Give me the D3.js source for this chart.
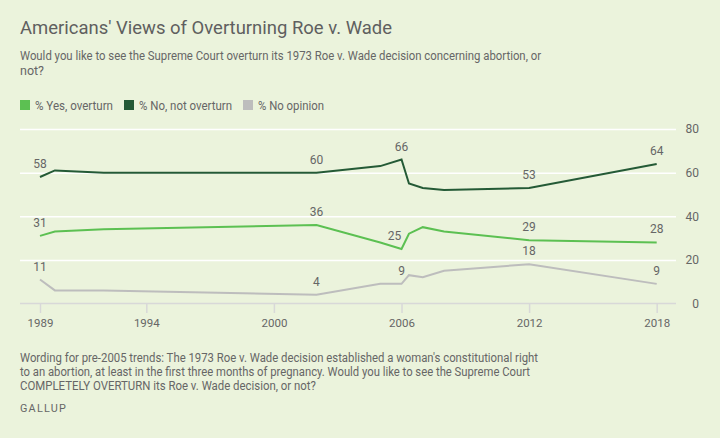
<!DOCTYPE html>
<html>
<head>
<meta charset="utf-8">
<script src="https://cdn.jsdelivr.net/npm/d3@7"></script>
<style>
  body{margin:0;background:#ebf3dc}
  text{font-family:Roboto,sans-serif}
</style>
</head>
<body>
<script>
// poll dates as decimal years
const years = [1989, 1989.7, 1992, 2002, 2005, 2006, 2006.35, 2007, 2008, 2012, 2018]
const yesOverturn = [31, 33, 34, 36, 28, 25, 32, 35, 33, 29, 28]
const noOverturn = [58, 61, 60, 60, 63, 66, 55, 53, 52, 53, 64]
const noOpinion = [11, 6, 6, 4, 9, 9, 13, 12, 15, 18, 9]
const labelYears = [1989, 2002, 2006, 2012, 2018]
const seriesNames = ['% Yes, overturn', '% No, not overturn', '% No opinion']
const xTicks = [1989, 1994, 2000, 2006, 2012, 2018]
const yTicks = [0, 20, 40, 60, 80]

const colors = {yes: '#5cc052', no: '#245a36', none: '#bdbdbd'}
const textColor = '#666'
const w = 720, h = 438

const svg = d3.select('body').append('svg').attr('width', w).attr('height', h)
svg.append('rect').attr('width', w).attr('height', h).attr('fill', '#ebf3dc')

// header
svg.append('text').text("Americans' Views of Overturning Roe v. Wade")
  .attr('x', 20).attr('y', 34).attr('fill', '#5f5f5f').style('font-size', '19px')
  .attr('textLength', 372).attr('lengthAdjust', 'spacingAndGlyphs')
const sub = ['Would you like to see the Supreme Court overturn its 1973 Roe v. Wade decision concerning abortion, or', 'not?']
svg.append('text').text(sub[0]).attr('x', 20).attr('y', 59.5).attr('fill', textColor)
  .style('font-size', '12.5px').attr('textLength', 521).attr('lengthAdjust', 'spacingAndGlyphs')
svg.append('text').text(sub[1]).attr('x', 20).attr('y', 75).attr('fill', textColor).style('font-size', '12.5px')

// legend
const legendX = [20, 124, 243]
const legendW = [78, 93, 66]
const legendC = [colors.yes, colors.no, colors.none]
const legend = svg.append('g').attr('id', 'legend')
seriesNames.forEach((name, i) => {
  legend.append('rect').attr('x', legendX[i]).attr('y', 100).attr('width', 10).attr('height', 10).attr('fill', legendC[i])
  legend.append('text').text(name).attr('x', legendX[i] + 15).attr('y', 109.5).attr('fill', textColor)
    .style('font-size', '12px').attr('textLength', legendW[i]).attr('lengthAdjust', 'spacingAndGlyphs')
})

// scales
const x = d3.scaleLinear().domain([1989, 2018]).range([40, 656.7])
const y = d3.scaleLinear().domain([0, 80]).range([303.5, 129])

// gridlines
const grid = svg.append('g').attr('transform', 'translate(676,0)')
  .call(d3.axisLeft(y).tickValues(yTicks.filter(d => d > 0)).tickSize(656).tickFormat(''))
grid.select('.domain').remove()
grid.selectAll('line').attr('stroke', '#fff').attr('stroke-width', 1.5)

// y labels on the right
const yAxis = svg.append('g').attr('transform', 'translate(699,0)')
  .call(d3.axisRight(y).tickValues(yTicks).tickSize(0).tickPadding(0))
yAxis.select('.domain').remove()
yAxis.selectAll('text').attr('text-anchor', 'end').attr('fill', textColor)
  .style('font-size', '12px').style('font-family', 'Roboto,sans-serif')

// x axis
svg.append('line').attr('x1', 20).attr('x2', 676).attr('y1', y(0)).attr('y2', y(0))
  .attr('stroke', '#d8d8d8').attr('stroke-width', 1.5)
const xAxis = svg.append('g').attr('transform', 'translate(0,' + y(0) + ')')
  .call(d3.axisBottom(x).tickValues(xTicks).tickFormat(d3.format('d')).tickSize(9.5).tickPadding(6))
xAxis.select('.domain').remove()
xAxis.selectAll('line').attr('stroke', '#d8d8d8').attr('stroke-width', 1.5)
xAxis.selectAll('text').attr('fill', textColor).style('font-size', '11.5px').style('font-family', 'Roboto,sans-serif')

// lines
const series = [
  {key: 'none', vals: noOpinion},
  {key: 'yes', vals: yesOverturn},
  {key: 'no', vals: noOverturn}
]
const line = d3.line().x(d => x(d[0])).y(d => y(d[1]))
series.forEach(s => {
  const pts = years.map((yr, i) => [yr, s.vals[i]])
  svg.append('path').datum(pts).attr('d', line).attr('fill', 'none')
    .attr('stroke', colors[s.key]).attr('stroke-width', 2)
  svg.selectAll(null).data(pts.filter(p => labelYears.includes(p[0]))).enter()
    .append('text').text(d => d[1])
    .attr('x', d => x(d[0]) + (s.key == 'yes' && d[0] == 2006 ? -7 : 0))
    .attr('y', d => y(d[1]) - 9)
    .attr('text-anchor', 'middle').attr('fill', textColor).style('font-size', '12px')
})

// footer
const foot = ["Wording for pre-2005 trends: The 1973 Roe v. Wade decision established a woman's constitutional right",
  'to an abortion, at least in the first three months of pregnancy. Would you like to see the Supreme Court',
  'COMPLETELY OVERTURN its Roe v. Wade decision, or not?']
const footW = [518, 510, 296]
foot.forEach((t, i) => {
  svg.append('text').text(t).attr('x', 20).attr('y', 362 + i * 14).attr('fill', textColor)
    .style('font-size', '12px').attr('textLength', footW[i]).attr('lengthAdjust', 'spacingAndGlyphs')
})
svg.append('text').text('GALLUP').attr('x', 20).attr('y', 411.5).attr('fill', textColor)
  .style('font-size', '11.5px').style('letter-spacing', '1.3px')
  .attr('textLength', 47).attr('lengthAdjust', 'spacingAndGlyphs')
</script>
</body>
</html>
